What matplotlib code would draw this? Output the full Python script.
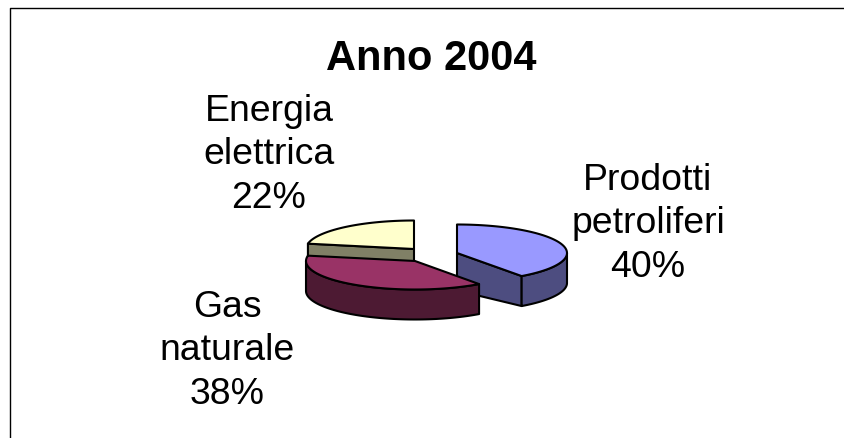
"""3D-look exploded pie, Anno 2004."""

import matplotlib
matplotlib.use("Agg")
import matplotlib.pyplot as plt
import numpy as np

plt.rcParams["font.family"] = ["Liberation Sans", "DejaVu Sans"]

title = "Anno 2004"
labels = ["Prodotti\npetroliferi\n40%", "Gas\nnaturale\n38%", "Energia\nelettrica\n22%"]
values = [40, 38, 22]
top_colors = ["#9999FF", "#993366", "#FFFFCC"]
side_colors = ["#4D4D80", "#4D1A33", "#808066"]

# apex of each slice in pixels, the pie is squashed into an ellipse
centers = [(457, 254), (415, 262), (414, 250)]
radii_x = [110, 109, 108]
label_pos = [(648, 224), (227, 351), (269, 155)]
RY, DEPTH = 28.5, 30
EDGE = dict(edgecolor="black", linewidth=1.5, joinstyle="round")


def rim(c, rx, a0, a1):
    # angles are clockwise from 12 o'clock, like the spreadsheet pie
    t = np.radians(np.linspace(a0, a1, 80))
    return np.column_stack([c[0] + rx * np.sin(t), c[1] - RY * np.cos(t)])


fig = plt.figure(figsize=(8.44, 4.39), dpi=100)
ax = fig.add_axes([0, 0, 1, 1])
ax.set_xlim(0, 844)
ax.set_ylim(439, 0)
ax.axis("off")

# chart frame, only top and left are inside the crop
ax.plot([9.5, 9.5, 844], [439, 8.5, 8.5], color="black", lw=1.0)

edges = np.cumsum([0] + values) * 3.6
slices = list(zip(centers, radii_x, edges[:-1], edges[1:], top_colors, side_colors))

# blue sits behind the gas tip, so it goes first, then yellow, then gas
for i in (0, 2, 1):
    c, rx, a0, a1, top, side = slices[i]
    c = np.array(c, dtype=float)
    down = np.array([0, DEPTH])

    # cut faces that look towards the viewer
    if i == 2:
        p = rim(c, rx, a0, a0)[0]
        ax.fill(*np.array([c, p, p + down, c + down]).T, facecolor=side, **EDGE)
    if i == 0:
        p = rim(c, rx, a1, a1)[0]
        # perspective: the apex end of this face looks taller
        ax.fill(*np.array([c, p, p + down, c + down * 1.25]).T, facecolor=side, **EDGE)

    # outer wall, only the part between 3 and 9 o'clock shows
    w0, w1 = max(a0, 90), min(a1, 270)
    if w0 < w1:
        arc = rim(c, rx, w0, w1)
        wall = np.vstack([arc, arc[::-1] + down])
        ax.fill(*wall.T, facecolor=side, **EDGE)

    face = np.vstack([c, rim(c, rx, a0, a1)])
    ax.fill(*face.T, facecolor=top, **EDGE)

ax.text(431, 59, title, fontsize=30, fontweight="bold", ha="center", va="center")
for text, (x, y) in zip(labels, label_pos):
    ax.text(x, y, text, fontsize=26.9, ha="center", va="center",
            multialignment="center", linespacing=1.31)

fig.savefig("out.png", dpi=100)
